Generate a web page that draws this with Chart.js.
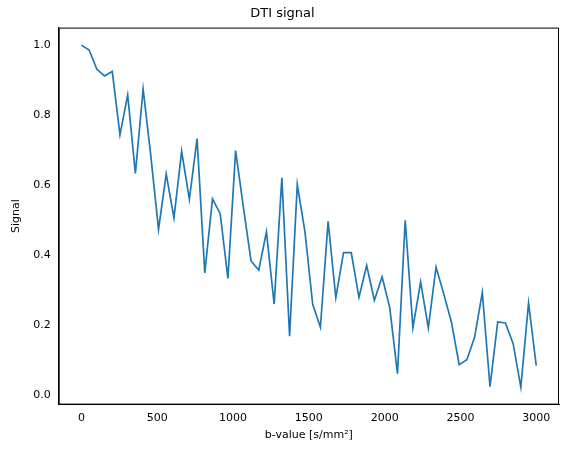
<!DOCTYPE html><html><head><script src="https://cdn.jsdelivr.net/npm/chart.js@4"></script>
<style>body{margin:0;background:#fff}#w{width:567px;height:454px}</style></head><body><div id="w"><canvas id="c"></canvas></div><script>
const bValues=[0,50.8,101.7,152.5,203.4,254.2,305.1,355.9,406.8,457.6,508.5,559.3,610.2,661.0,711.9,762.7,813.6,864.4,915.3,966.1,1016.9,1067.8,1118.6,1169.5,1220.3,1271.2,1322.0,1372.9,1423.7,1474.6,1525.4,1576.3,1627.1,1678.0,1728.8,1779.7,1830.5,1881.4,1932.2,1983.1,2033.9,2084.7,2135.6,2186.4,2237.3,2288.1,2339.0,2389.8,2440.7,2491.5,2542.4,2593.2,2644.1,2694.9,2745.8,2796.6,2847.5,2898.3,2949.2,3000];
const signal=[1.0,0.986,0.931,0.912,0.925,0.744,0.858,0.634,0.875,0.684,0.474,0.632,0.507,0.697,0.56,0.733,0.35,0.561,0.519,0.334,0.699,0.539,0.384,0.358,0.467,0.261,0.621,0.169,0.602,0.466,0.26,0.195,0.497,0.279,0.408,0.408,0.28,0.371,0.272,0.339,0.25,0.062,0.5,0.193,0.324,0.193,0.366,0.29,0.209,0.088,0.102,0.166,0.294,0.025,0.21,0.207,0.148,0.024,0.264,0.085];
const xTicks=[0,500,1000,1500,2000,2500,3000];
const yTicks=[0.0,0.2,0.4,0.6,0.8,1.0];
const F='DejaVu Sans';
new Chart(document.getElementById('c'),{type:'line',
data:{datasets:[{data:bValues.map((b,i)=>({x:b,y:signal[i]})),borderColor:'#1f77b4',borderWidth:1.7,pointRadius:0,tension:0}]},
options:{responsive:true,maintainAspectRatio:false,animation:false,
layout:{padding:{left:6,right:8,top:0,bottom:8}},
plugins:{legend:{display:false},tooltip:{enabled:false},
title:{display:true,text:'DTI signal',color:'#000',font:{family:F,size:13,weight:'normal'},padding:{top:6,bottom:6}}},
scales:{
x:{type:'linear',min:-150,max:3150,afterBuildTicks:a=>{a.ticks=xTicks.map(v=>({value:v}))},
grid:{display:false,drawTicks:true,tickLength:4,tickColor:'#000'},border:{color:'#000',width:1},
ticks:{color:'#000',font:{family:F,size:11},maxRotation:0,padding:3,callback:v=>String(v)},
title:{display:true,text:'b-value [s/mm²]',color:'#000',font:{family:F,size:11},padding:{top:1}}},
y:{type:'linear',min:-0.026,max:1.05,afterBuildTicks:a=>{a.ticks=yTicks.map(v=>({value:v}))},
grid:{display:false,tickLength:4,tickColor:'#000'},border:{color:'#000',width:1},
ticks:{color:'#000',font:{family:F,size:11},padding:4,callback:v=>v.toFixed(1)},
title:{display:true,text:'Signal',color:'#000',font:{family:F,size:11},padding:{bottom:6}}}}},
plugins:[{id:'box',afterDraw(c){const a=c.chartArea,x=c.ctx;x.save();x.strokeStyle='#000';x.lineWidth=1;x.strokeRect(a.left+0.5,a.top+0.5,a.right-a.left-1,a.bottom-a.top-1);x.restore();}}]
});
</script></body></html>
